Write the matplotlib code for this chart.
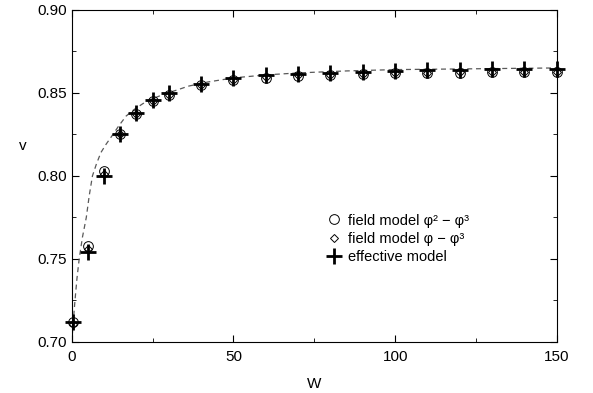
import numpy as np
import matplotlib
matplotlib.use('Agg')
import matplotlib.pyplot as plt
from matplotlib.ticker import MultipleLocator

plt.rcParams['font.family'] = ['Liberation Sans', 'DejaVu Sans']

# Data
W = [0.5, 5, 10, 15, 20, 25, 30, 40, 50, 60, 70, 80, 90, 100, 110, 120, 130, 140, 150]
v_eff = [0.712, 0.754, 0.800, 0.825, 0.838, 0.8455, 0.850, 0.8555, 0.859, 0.8605,
         0.8615, 0.862, 0.8627, 0.8632, 0.8636, 0.8640, 0.8642, 0.8643, 0.8645]
v_phi23 = [0.712, 0.758, 0.803, 0.825, 0.837, 0.845, 0.849, 0.8545, 0.8578, 0.859,
           0.860, 0.861, 0.8615, 0.862, 0.862, 0.8622, 0.8623, 0.8624, 0.8625]
v_phi3 = [0.711, 0.756, 0.801, 0.825, 0.837, 0.845, 0.849, 0.8545, 0.858, 0.8595,
          0.8605, 0.861, 0.8615, 0.862, 0.8622, 0.8623, 0.8624, 0.8625, 0.8626]

# Dashed theory curve
W_curve = [0, 0.5, 1, 1.6, 2.3, 3.3, 4.5, 5.4, 6.4, 7.6, 9, 10.6, 12.4, 14.5, 16.8,
           19.3, 22, 25, 29, 33, 36, 42, 50, 60, 70, 85, 100, 125, 150]
v_curve = [0.700, 0.713, 0.725, 0.738, 0.750, 0.763, 0.775, 0.788, 0.800, 0.807,
           0.814, 0.819, 0.824, 0.830, 0.836, 0.840, 0.8435, 0.8465, 0.8495, 0.852,
           0.854, 0.8565, 0.859, 0.8608, 0.862, 0.8632, 0.864, 0.8645, 0.865]

fig = plt.figure(figsize=(5.93, 3.93), dpi=100)
ax = fig.add_axes([0.121, 0.13, 0.818, 0.845])

ax.plot(W_curve, v_curve, color='0.35', linestyle=(0, (4, 3)), linewidth=0.9)
ax.plot(W, v_phi23, linestyle='none', marker='o', markersize=7, markerfacecolor='none',
        markeredgecolor='black', markeredgewidth=0.7, clip_on=False,
        label='field model \u03c6\u00b2 \u2212 \u03c6\u00b3')
ax.plot(W, v_phi3, linestyle='none', marker='D', markersize=4.5, markerfacecolor='none',
        markeredgecolor='black', markeredgewidth=0.7, clip_on=False,
        label='field model \u03c6 \u2212 \u03c6\u00b3')
ax.plot(W, v_eff, linestyle='none', marker='+', markersize=11, markeredgewidth=2,
        color='black', clip_on=False, label='effective model')

ax.set_xlim(0, 150)
ax.set_ylim(0.70, 0.90)
ax.xaxis.set_major_locator(MultipleLocator(50))
ax.xaxis.set_minor_locator(MultipleLocator(25))
ax.yaxis.set_major_locator(MultipleLocator(0.05))
ax.yaxis.set_minor_locator(MultipleLocator(0.025))
ax.yaxis.set_major_formatter(matplotlib.ticker.FormatStrFormatter('%.2f'))
ax.tick_params(which='both', direction='in', top=True, right=True, labelsize=11)
ax.tick_params(which='major', length=5)
ax.tick_params(which='minor', length=3)
ax.tick_params(axis='x', pad=6)

ax.set_xlabel('W', fontsize=11, labelpad=9)
ax.set_ylabel('v', fontsize=11, rotation=0, va='center', ha='center')
ax.yaxis.set_label_coords(-0.10, 0.59)

ax.legend(loc='center left', bbox_to_anchor=(0.51, 0.31), frameon=False, fontsize=10.5,
          handletextpad=0.4, labelspacing=0.3, borderaxespad=0, handlelength=1.2)

fig.savefig('out.png', dpi=100)
